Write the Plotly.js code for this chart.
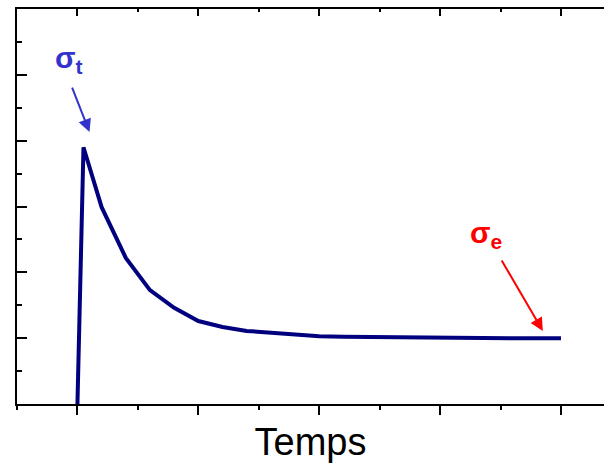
<!DOCTYPE html>
<html>
<head>
<meta charset="utf-8">
<script src="https://cdn.plot.ly/plotly-3.0.1.min.js"></script>
<style>html,body{margin:0;padding:0;background:#fff;overflow:hidden}#chart{width:604px;height:465px}</style>
</head>
<body>
<div id="chart"></div>
<script>
// Data (arbitrary units: time vs stress)
const temps = [0, 0.05, 0.2, 0.4, 0.6, 0.8, 1.0, 1.2, 1.4, 1.6, 1.8, 2.0, 2.2, 2.4, 2.6, 2.8, 3.0, 3.2, 3.4, 3.6, 3.8, 4.0];
const contrainte = [0, 3.90, 2.99, 2.22, 1.73, 1.46, 1.26, 1.17, 1.11, 1.08, 1.05, 1.03, 1.02, 1.015, 1.01, 1.01, 1.005, 1.005, 1.0, 1.0, 1.0, 1.0];
const xTitle = 'Temps';
const labelT = '<b>σ<sub>t</sub></b>';
const labelE = '<b>σ<sub>e</sub></b>';

const font = 'Arial, "Liberation Sans", sans-serif';
const xr = [-0.5, 4.356];
const yr = [0, 6];

const trace = {
  x: temps, y: contrainte, type: 'scatter', mode: 'lines',
  line: {color: '#00007f', width: 4}, hoverinfo: 'skip', showlegend: false
};

const layout = {
  width: 604, height: 465,
  margin: {l: 17, r: 0, t: 9, b: 61},
  paper_bgcolor: '#fff', plot_bgcolor: '#fff',
  font: {family: font, color: '#000'},
  xaxis: {
    range: xr, showgrid: false, zeroline: false, showticklabels: false,
    showline: true, linecolor: '#000', linewidth: 2,
    ticks: 'outside', ticklen: 9, tickwidth: 2, tickcolor: '#000', tick0: 0, dtick: 1,
    minor: {ticks: 'outside', ticklen: 4, tickwidth: 2, tickcolor: '#000', tick0: 0, dtick: 0.5, showgrid: false},
    title: {text: xTitle, font: {size: 38, family: font, color: '#000'}, standoff: 14}
  },
  xaxis2: {
    range: xr, overlaying: 'x', side: 'top', showgrid: false, zeroline: false, showticklabels: false,
    showline: true, linecolor: '#000', linewidth: 2,
    ticks: 'inside', ticklen: 7, tickwidth: 2, tickcolor: '#000', tick0: 0, dtick: 1,
    minor: {ticks: 'inside', ticklen: 3, tickwidth: 2, tickcolor: '#000', tick0: 0, dtick: 0.5, showgrid: false}
  },
  yaxis: {
    range: yr, showgrid: false, zeroline: false, showticklabels: false,
    showline: true, linecolor: '#000', linewidth: 2,
    ticks: 'inside', ticklen: 10, tickwidth: 2, tickcolor: '#000', tick0: 0, dtick: 1,
    minor: {ticks: 'inside', ticklen: 5, tickwidth: 2, tickcolor: '#000', tick0: 0, dtick: 0.5, showgrid: false}
  },
  annotations: [
    {x: -0.07, y: 5.23, xref: 'x', yref: 'y', text: labelT, showarrow: false,
     font: {size: 30, color: '#3333cc', family: font}},
    {x: 0.10, y: 4.13, xref: 'x', yref: 'y', text: '', showarrow: true,
     ax: -18, ay: -46, arrowhead: 2, arrowsize: 1.3, arrowwidth: 2, arrowcolor: '#3333cc', standoff: 0},
    {x: 3.38, y: 2.58, xref: 'x', yref: 'y', text: labelE, showarrow: false,
     font: {size: 30, color: '#ff0000', family: font}},
    {x: 3.85, y: 1.11, xref: 'x', yref: 'y', text: '', showarrow: true,
     ax: -42, ay: -72, arrowhead: 2, arrowsize: 1.3, arrowwidth: 2, arrowcolor: '#ff0000', standoff: 0}
  ]
};

const dummy = {x: xr, y: [0, 0], xaxis: 'x2', type: 'scatter', mode: 'none', showlegend: false, hoverinfo: 'skip'};

Plotly.newPlot('chart', [trace, dummy], layout, {displayModeBar: false, staticPlot: true});
</script>
</body>
</html>
